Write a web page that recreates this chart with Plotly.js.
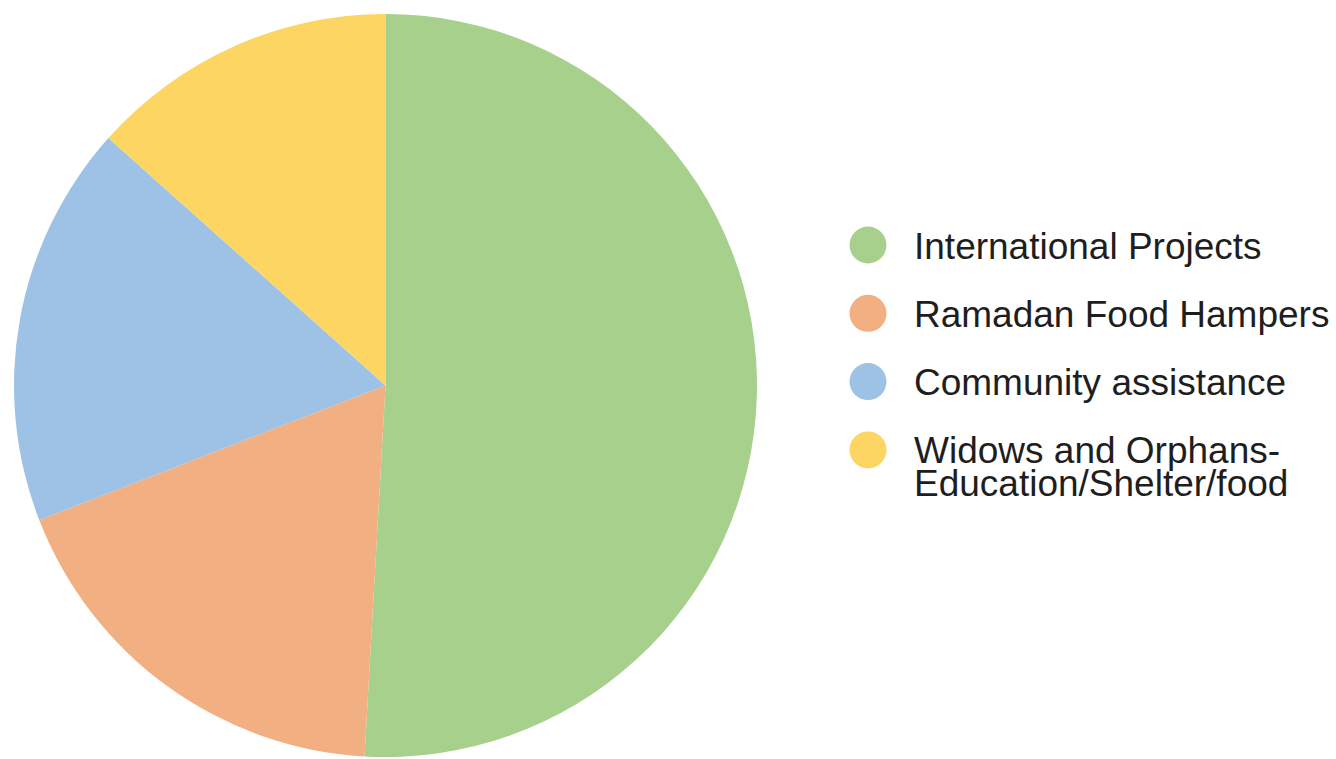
<!DOCTYPE html>
<html>
<head>
<meta charset="utf-8">
<script src="https://cdn.plot.ly/plotly-3.0.1.min.js"></script>
<style>html,body{margin:0;padding:0;background:#fff;}#chart{width:1336px;height:759px;}</style>
</head>
<body>
<div id="chart"></div>
<script>
// Data
var categories = ["International Projects", "Ramadan Food Hampers", "Community assistance", "Widows and Orphans-\nEducation/Shelter/food"];
var shares = [50.9, 18.2, 17.5, 13.4];
var colors = ["#a7d08c", "#f1af82", "#9dc2e6", "#fdd563"];

var W = 1336, H = 759;
var pie = {
  type: "pie",
  labels: categories,
  values: shares,
  sort: false,
  direction: "clockwise",
  rotation: 0,
  textinfo: "none",
  hoverinfo: "label+percent",
  marker: {colors: colors, line: {width: 0}},
  showlegend: false,
  domain: {x: [14 / W, 757 / W], y: [(H - 757) / H, (H - 14) / H]}
};

// Custom legend with large circle markers
var idx = categories.map(function (_, i) { return i; });
var legendMarks = {
  type: "scatter",
  mode: "markers",
  x: idx.map(function () { return 0; }),
  y: idx,
  marker: {symbol: "circle", size: 37, color: colors, line: {width: 0}},
  hoverinfo: "skip",
  showlegend: false,
  xaxis: "x", yaxis: "y"
};

var annotations = [];
categories.forEach(function (c, i) {
  c.split("\n").forEach(function (line, j) {
    annotations.push({
      xref: "x", yref: "y", x: 0, y: i,
      text: line, showarrow: false,
      xanchor: "left", yanchor: "middle",
      xshift: 44, yshift: -33 * j - 1,
      font: {family: "Liberation Sans, Arial, sans-serif", size: 37, color: "#1e1e1e"}
    });
  });
});

var layout = {
  width: W, height: H,
  margin: {l: 0, r: 0, t: 0, b: 0},
  paper_bgcolor: "#fff", plot_bgcolor: "rgba(0,0,0,0)",
  showlegend: false,
  xaxis: {domain: [0.6, 1], range: [-(868 - 0.6 * W), W - 868], visible: false, fixedrange: true},
  yaxis: {domain: [0, 1], range: [(H - 245) / 68.3, -245 / 68.3], visible: false, fixedrange: true},
  annotations: annotations
};

Plotly.newPlot("chart", [pie, legendMarks], layout, {displayModeBar: false, staticPlot: true});
</script>
</body>
</html>
